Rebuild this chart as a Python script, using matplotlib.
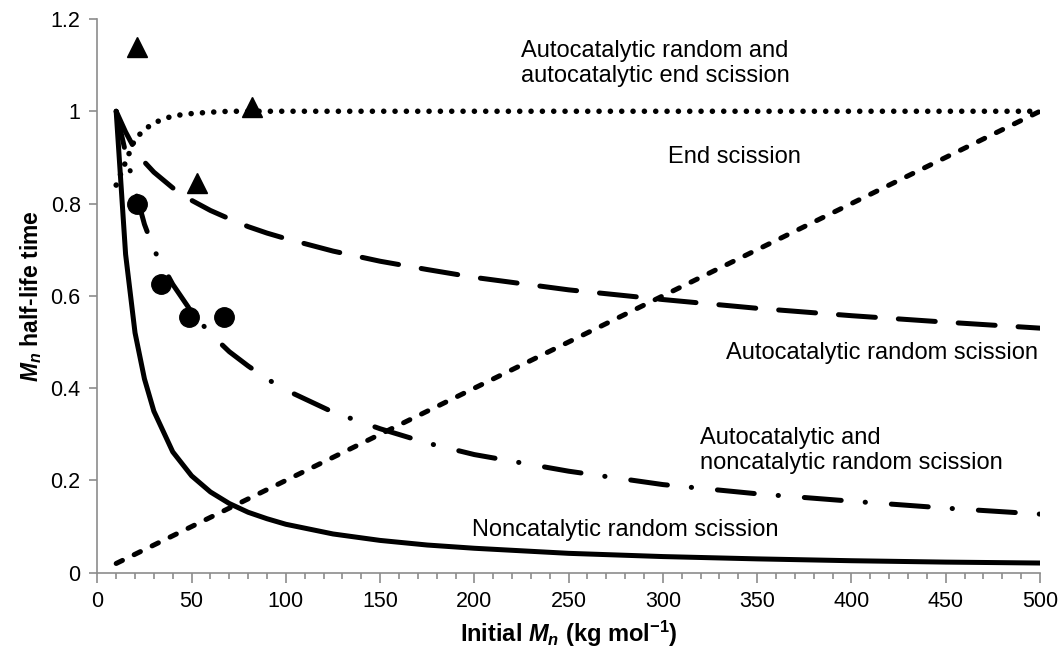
import numpy as np
import matplotlib
matplotlib.use("Agg")
import matplotlib.pyplot as plt

plt.rcParams['font.family'] = ['Liberation Sans', 'DejaVu Sans']
plt.rcParams['mathtext.fontset'] = 'custom'
plt.rcParams['mathtext.rm'] = 'Liberation Sans:bold'
plt.rcParams['mathtext.it'] = 'Liberation Sans:bold:italic'
plt.rcParams['mathtext.bf'] = 'Liberation Sans:bold'

# initial Mn (kg/mol) where the model curves were read
mn = [10, 15, 20, 25, 30, 40, 50, 60, 70, 80, 90, 100, 125, 150, 175,
      200, 250, 300, 350, 400, 450, 500]

noncat = [1.0, 0.69, 0.52, 0.42, 0.35, 0.262, 0.21, 0.175, 0.15, 0.131,
          0.117, 0.105, 0.084, 0.07, 0.06, 0.053, 0.042, 0.035, 0.030,
          0.026, 0.023, 0.021]
end_sc = [0.02, 0.03, 0.04, 0.05, 0.06, 0.08, 0.10, 0.12, 0.14, 0.16,
          0.18, 0.20, 0.25, 0.30, 0.35, 0.40, 0.50, 0.60, 0.70, 0.80,
          0.90, 1.0]
autocat = [1.0, 0.955, 0.917, 0.89, 0.868, 0.834, 0.807, 0.785, 0.767,
           0.75, 0.736, 0.724, 0.697, 0.675, 0.657, 0.64, 0.613, 0.592,
           0.573, 0.557, 0.543, 0.53]
auto_noncat = [1.0, 0.91, 0.83, 0.755, 0.70, 0.625, 0.565, 0.518, 0.479,
               0.448, 0.42, 0.396, 0.348, 0.312, 0.281, 0.256, 0.22, 0.191,
               0.171, 0.155, 0.14, 0.127]
auto_end = [0.84, 0.89, 0.94, 0.96, 0.975, 0.99, 0.995, 0.998, 1.0, 1.0,
            1.0, 1.0, 1.0, 1.0, 1.0, 1.0, 1.0, 1.0, 1.0, 1.0, 1.0, 1.0]

# experimental points
tri_x = [21, 53, 82]
tri_y = [1.14, 0.845, 1.01]
circ_x = [21, 34, 48.5, 67]
circ_y = [0.80, 0.626, 0.554, 0.554]

fig = plt.figure(figsize=(10.59, 6.52), dpi=100)
ax = fig.add_axes([0.0919, 0.1216, 0.8901, 0.8493])

lw = 3.6
ax.plot(mn, noncat, color='black', lw=lw, solid_capstyle='round',
        solid_joinstyle='round')
ax.plot(mn, end_sc, color='black', lw=lw, linestyle=(0, (1.4, 2.6)),
        dash_capstyle='round')
ax.plot(mn, autocat, color='black', lw=lw, linestyle=(0, (7.4, 4.6)),
        dash_capstyle='round')
ax.plot(mn, auto_noncat, color='black', lw=lw,
        linestyle=(0, (7.4, 4.8, 0.05, 5.2)), dash_capstyle='round')
ax.plot(mn, auto_end, color='black', lw=4, linestyle=(0, (0.01, 2.03)),
        dash_capstyle='round')

ax.plot(tri_x, tri_y, linestyle='None', marker='^', ms=14, color='black',
        zorder=5, clip_on=False)
ax.plot(circ_x, circ_y, linestyle='None', marker='o', ms=14, color='black',
        zorder=5)

ax.set_xlim(0, 500)
ax.set_ylim(0, 1.2)
ax.set_xticks(np.arange(0, 501, 50))
ax.set_xticks(np.arange(0, 501, 10), minor=True)
ax.set_yticks([0, 0.2, 0.4, 0.6, 0.8, 1.0, 1.2])
ax.set_yticklabels(['0', '0.2', '0.4', '0.6', '0.8', '1', '1.2'])

for s in ['top', 'right']:
    ax.spines[s].set_visible(False)
for s in ['left', 'bottom']:
    ax.spines[s].set_color('#8c8c8c')
    ax.spines[s].set_linewidth(1.2)
ax.tick_params(axis='both', which='both', direction='out', color='#8c8c8c',
               width=1.2, labelsize=15.5, labelcolor='black')
ax.tick_params(axis='x', which='major', length=7, pad=6)
ax.tick_params(axis='x', which='minor', length=4)
ax.tick_params(axis='y', which='major', length=6, pad=6)

ax.set_xlabel(r'Initial $M_n$ (kg mol$^{-1}$)', fontsize=17,
              fontweight='bold', labelpad=5)
ax.set_ylabel(r'$M_n$ half-life time', fontsize=16.5, fontweight='bold',
              labelpad=5)

fs = 17
ax.text(225, 1.103, 'Autocatalytic random and\nautocatalytic end scission',
        fontsize=fs, ha='left', va='center', linespacing=1.15)
ax.text(302.5, 0.90, 'End scission', fontsize=fs, ha='left', va='center')
ax.text(499, 0.476, 'Autocatalytic random scission', fontsize=fs,
        ha='right', va='center')
ax.text(319.5, 0.265, 'Autocatalytic and\nnoncatalytic random scission',
        fontsize=fs, ha='left', va='center', linespacing=1.15)
ax.text(198.5, 0.0925, 'Noncatalytic random scission', fontsize=fs,
        ha='left', va='center')

fig.savefig('out.png', dpi=100)
